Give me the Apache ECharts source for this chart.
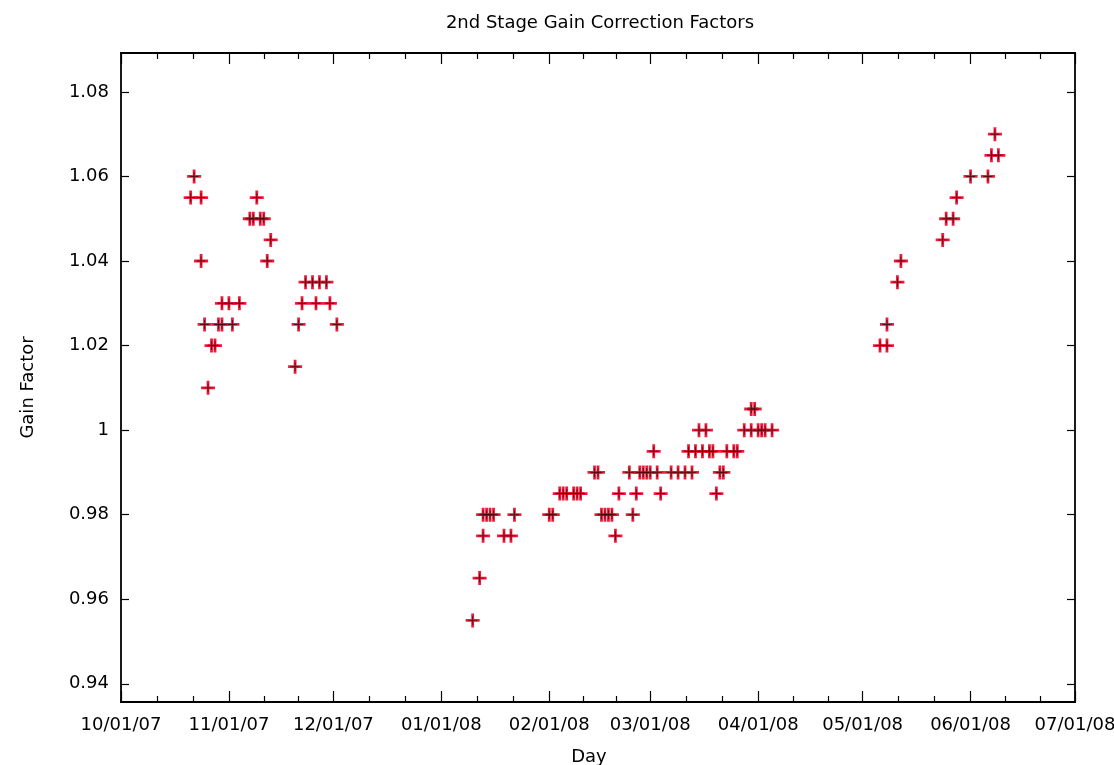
<!DOCTYPE html>
<html>
<head>
<meta charset="utf-8">
<title>2nd Stage Gain Correction Factors</title>
<script src="https://cdn.jsdelivr.net/npm/echarts@6/dist/echarts.min.js"></script>
<style>
  html, body { margin: 0; padding: 0; background: #fff; }
  #chart { width: 1114px; height: 765px; }
</style>
</head>
<body>
<div id="chart"></div>
<script>
// Gain factor measurements, [day, factor]
const fall = [
  ['2007-10-21', 1.055], ['2007-10-22', 1.06], ['2007-10-24', 1.055], ['2007-10-24', 1.04],
  ['2007-10-25', 1.025], ['2007-10-26', 1.01], ['2007-10-27', 1.02], ['2007-10-28', 1.02],
  ['2007-10-29', 1.025], ['2007-10-30', 1.03], ['2007-10-30', 1.025], ['2007-11-01', 1.03],
  ['2007-11-02', 1.025], ['2007-11-04', 1.03], ['2007-11-07', 1.05], ['2007-11-08', 1.05],
  ['2007-11-09', 1.055], ['2007-11-10', 1.05], ['2007-11-11', 1.05], ['2007-11-12', 1.04],
  ['2007-11-13', 1.045], ['2007-11-20', 1.015], ['2007-11-21', 1.025], ['2007-11-22', 1.03],
  ['2007-11-23', 1.035], ['2007-11-25', 1.035], ['2007-11-26', 1.03], ['2007-11-27', 1.035],
  ['2007-11-29', 1.035], ['2007-11-30', 1.03], ['2007-12-02', 1.025]
];

const winter = [
  ['2008-01-10', 0.955], ['2008-01-12', 0.965], ['2008-01-13', 0.975], ['2008-01-13', 0.98],
  ['2008-01-14', 0.98], ['2008-01-15', 0.98], ['2008-01-16', 0.98], ['2008-01-19', 0.975],
  ['2008-01-21', 0.975], ['2008-01-22', 0.98],
  ['2008-02-01', 0.98], ['2008-02-02', 0.98], ['2008-02-04', 0.985], ['2008-02-05', 0.985],
  ['2008-02-06', 0.985], ['2008-02-08', 0.985], ['2008-02-09', 0.985], ['2008-02-10', 0.985],
  ['2008-02-14', 0.99], ['2008-02-15', 0.99], ['2008-02-16', 0.98], ['2008-02-17', 0.98],
  ['2008-02-18', 0.98], ['2008-02-19', 0.98], ['2008-02-20', 0.975], ['2008-02-21', 0.985],
  ['2008-02-24', 0.99], ['2008-02-25', 0.98], ['2008-02-26', 0.985], ['2008-02-27', 0.99],
  ['2008-02-28', 0.99], ['2008-02-29', 0.99],
  ['2008-03-01', 0.99], ['2008-03-02', 0.995], ['2008-03-03', 0.99], ['2008-03-04', 0.985],
  ['2008-03-07', 0.99], ['2008-03-09', 0.99], ['2008-03-11', 0.99], ['2008-03-12', 0.995],
  ['2008-03-13', 0.99], ['2008-03-14', 0.995], ['2008-03-15', 1.0], ['2008-03-16', 0.995],
  ['2008-03-17', 1.0], ['2008-03-18', 0.995], ['2008-03-19', 0.995], ['2008-03-20', 0.985],
  ['2008-03-21', 0.99], ['2008-03-22', 0.99], ['2008-03-23', 0.995], ['2008-03-25', 0.995],
  ['2008-03-26', 0.995], ['2008-03-28', 1.0], ['2008-03-30', 1.0], ['2008-03-30', 1.005],
  ['2008-03-31', 1.005], ['2008-04-01', 1.0], ['2008-04-02', 1.0], ['2008-04-03', 1.0],
  ['2008-04-05', 1.0]
];

const spring = [
  ['2008-05-06', 1.02], ['2008-05-08', 1.02], ['2008-05-08', 1.025], ['2008-05-11', 1.035],
  ['2008-05-12', 1.04], ['2008-05-24', 1.045], ['2008-05-25', 1.05], ['2008-05-27', 1.05],
  ['2008-05-28', 1.055], ['2008-06-01', 1.06], ['2008-06-06', 1.06], ['2008-06-07', 1.065],
  ['2008-06-08', 1.07], ['2008-06-09', 1.065]
];

// Axis ticks
const monthTicks = ['2007-10-01', '2007-11-01', '2007-12-01', '2008-01-01', '2008-02-01',
  '2008-03-01', '2008-04-01', '2008-05-01', '2008-06-01', '2008-07-01'];
const yTicks = [0.94, 0.96, 0.98, 1.00, 1.02, 1.04, 1.06, 1.08];
const yMin = 0.9357, yMax = 1.0892;

function toTime(s) {
  const [y, m, d] = s.split('-').map(Number);
  return Date.UTC(y, m - 1, d);
}
const pad = n => (n < 10 ? '0' : '') + n;
function dayLabel(v) {
  const d = new Date(v);
  return pad(d.getUTCMonth() + 1) + '/' + pad(d.getUTCDate()) + '/' + pad(d.getUTCFullYear() % 100);
}

const majorX = monthTicks.map(toTime);
const minorX = [];
for (let i = 0; i < majorX.length - 1; i++) {
  const a = majorX[i], b = majorX[i + 1];
  minorX.push(a + (b - a) / 3, a + 2 * (b - a) / 3);
}
const xMin = majorX[0], xMax = majorX[majorX.length - 1];

const points = [].concat(fall, winter, spring).map(p => [toTime(p[0]), p[1]]);

const font = 'DejaVu Sans, Verdana, sans-serif';
const fontSize = 18;
const lineStyle = { color: '#000', width: 1.8 };

// Date axis drawn on a linear scale of timestamps with ticks on month starts
function xAxisDef(position, ticks, len, withLabels) {
  return {
    type: 'value', position: position, min: xMin, max: xMax, scale: true,
    axisLine: { show: true, onZero: false, lineStyle: lineStyle },
    axisTick: { show: true, inside: true, length: len, customValues: ticks,
      lineStyle: { color: '#000', width: 1.2 } },
    axisLabel: withLabels ? {
      show: true, customValues: majorX, formatter: dayLabel, margin: 14,
      color: '#000', fontFamily: font, fontSize: fontSize, hideOverlap: false
    } : { show: false },
    splitLine: { show: false }
  };
}

const chart = echarts.init(document.getElementById('chart'), null, { renderer: 'canvas' });
chart.setOption({
  animation: false,
  backgroundColor: '#fff',
  title: {
    text: '2nd Stage Gain Correction Factors',
    left: 595, top: 9, textAlign: 'center',
    textStyle: { fontFamily: font, fontSize: fontSize, fontWeight: 'normal', color: '#000' }
  },
  grid: { left: 121, right: 39, top: 53, bottom: 63, containLabel: false, outerBoundsMode: 'none' },
  xAxis: [
    Object.assign(xAxisDef('bottom', majorX, 11, true), {
      name: 'Day', nameLocation: 'middle', nameGap: 46,
      nameTextStyle: { fontFamily: font, fontSize: fontSize, color: '#000', padding: [0, 18, 0, 0] }
    }),
    xAxisDef('bottom', minorX, 6, false),
    xAxisDef('top', majorX, 11, false),
    xAxisDef('top', minorX, 6, false)
  ],
  yAxis: [
    {
      type: 'value', position: 'left', min: yMin, max: yMax, scale: true,
      name: 'Gain Factor', nameLocation: 'middle', nameGap: 84, nameRotate: 90,
      nameTextStyle: { fontFamily: font, fontSize: fontSize, color: '#000', padding: [0, 20, 0, 0] },
      axisLine: { show: true, onZero: false, lineStyle: lineStyle },
      axisTick: { show: true, inside: true, length: 8, customValues: yTicks,
        lineStyle: { color: '#000', width: 1.2 } },
      axisLabel: {
        show: true, customValues: yTicks, margin: 12,
        formatter: v => String(+v.toFixed(3)),
        color: '#000', fontFamily: font, fontSize: fontSize
      },
      splitLine: { show: false }
    },
    {
      type: 'value', position: 'right', min: yMin, max: yMax, scale: true,
      axisLine: { show: true, onZero: false, lineStyle: lineStyle },
      axisTick: { show: true, inside: true, length: 8, customValues: yTicks,
        lineStyle: { color: '#000', width: 1.2 } },
      axisLabel: { show: false },
      splitLine: { show: false }
    }
  ],
  series: [
    {
      name: 'Gain Factor', type: 'scatter', xAxisIndex: 0, yAxisIndex: 0,
      data: points,
      symbol: 'path://M4,0 H6 V4 H10 V6 H6 V10 H4 V6 H0 V4 H4 Z',
      symbolSize: 14,
      itemStyle: { color: '#ee0f2e', opacity: 0.95 }
    },
    {
      name: 'Gain Factor core', type: 'scatter', xAxisIndex: 0, yAxisIndex: 0,
      data: points,
      symbol: 'path://M4.5,0 H5.5 V4.5 H10 V5.5 H5.5 V10 H4.5 V5.5 H0 V4.5 H4.5 Z',
      symbolSize: 9,
      itemStyle: { color: '#3a0610' },
      silent: true
    }
  ]
});
</script>
</body>
</html>
